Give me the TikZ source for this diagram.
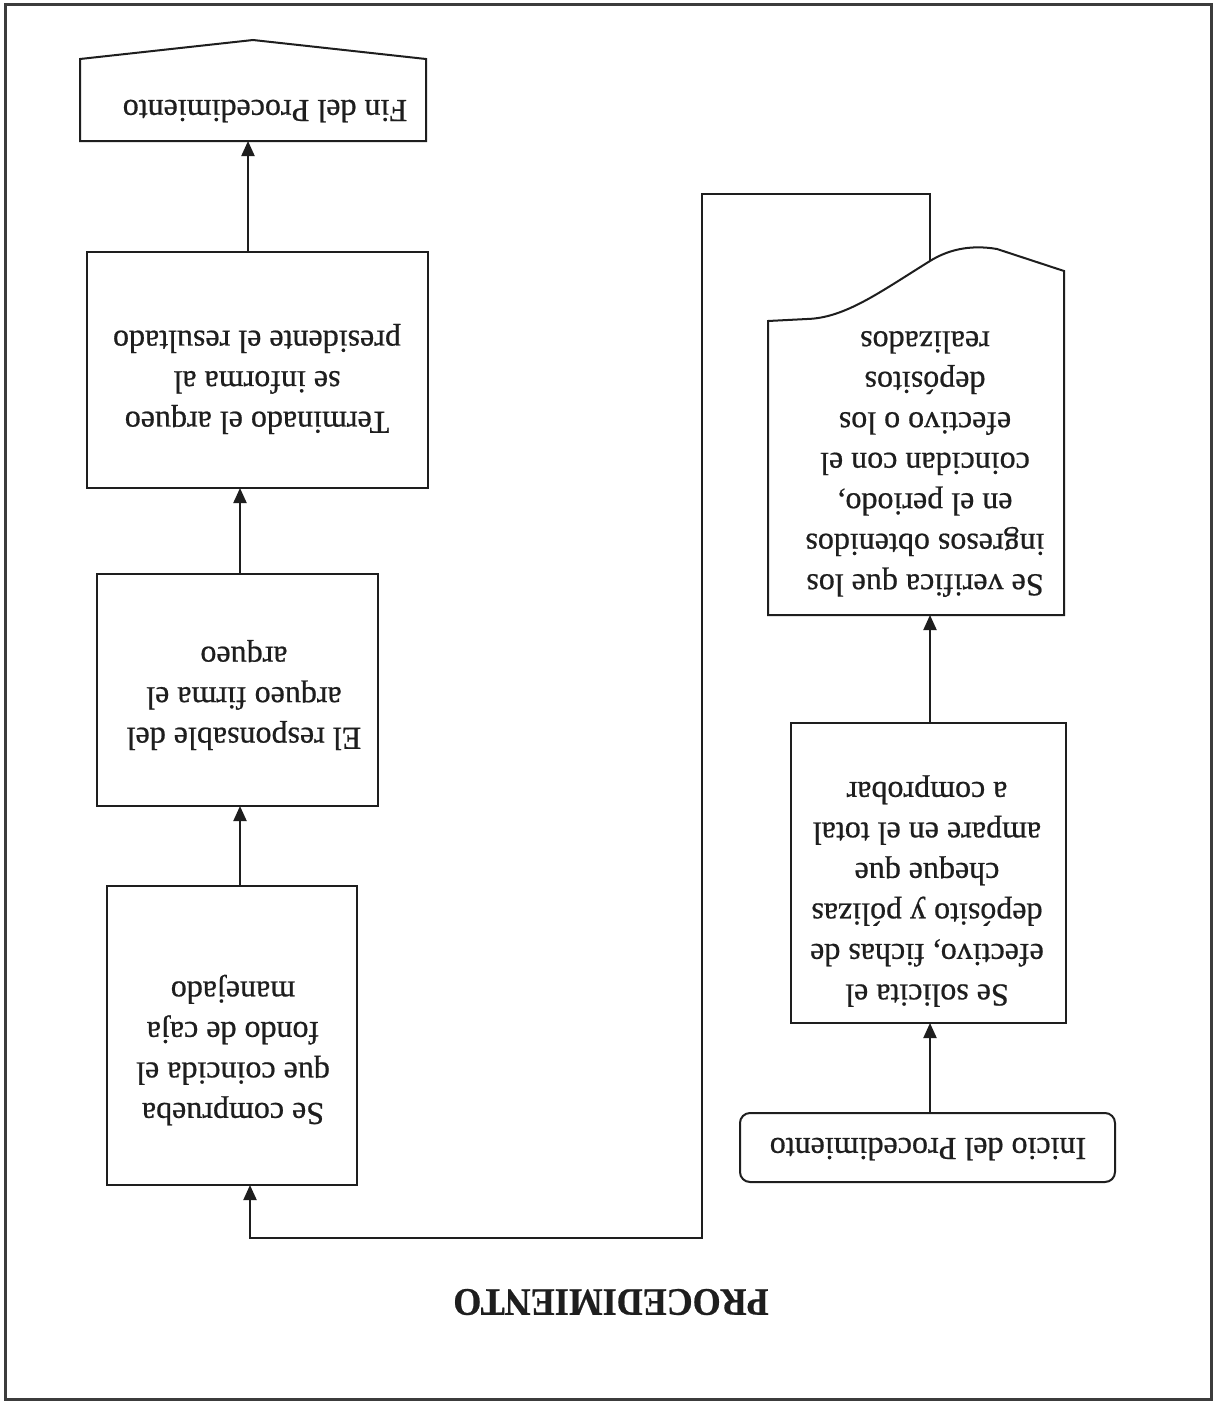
\documentclass[tikz,border=0pt]{standalone}
\usepackage{fontspec}
\setmainfont{Liberation Serif}[FakeBold=0.6]
\usepackage{graphicx}
\usetikzlibrary{arrows.meta,calc}

\definecolor{ink}{HTML}{1E1E1E}
\definecolor{framegray}{HTML}{3C3C3C}

\tikzset{
  boxshape/.style={draw=ink, line width=2pt, rectangle, inner sep=0pt, outer sep=0pt},
  anchorbox/.style={rectangle, inner sep=0pt, outer sep=0pt},
  txt/.style={text=ink, align=center, inner sep=0pt, rotate=180,
              font=\fontsize{32}{40.5}\selectfont},
  arr/.style={draw=ink, line width=2pt, -{Triangle[length=15pt,width=13pt]}},
  outline/.style={draw=ink, line width=2pt, line join=miter},
  frameline/.style={draw=framegray, line width=3pt}
}

\begin{document}
\begin{tikzpicture}[x=1pt,y=-1pt]
\useasboundingbox (0,0) rectangle (1218,1403);
\fill[white] (0,0) rectangle (1218,1403);

% outer frame
\draw[frameline] (5,4) rectangle (1211,1399);

% title
\node[txt, font=\bfseries\fontsize{36}{40}\selectfont] (title) at (611,1302)
  {\scalebox{1}[1.08]{PROCEDIMIENTO}};

% start terminal
\node[boxshape, rounded corners=10pt, minimum width=375pt, minimum height=69pt] (ini) at (927.5,1147.5) {};
\node[txt] (initxt) at (928,1149) {Inicio del Procedimiento};

% request step
\node[boxshape, minimum width=275pt, minimum height=300pt] (sol) at (928.5,873) {};
\node[txt] (soltxt) at (927,891) {Se solicita el\\efectivo, fichas de\\depósito y pólizas\\cheque que\\ampare en el total\\a comprobar};

% document step (wavy edge)
\node[anchorbox, minimum width=296pt, minimum height=366pt] (doc) at (916,432) {};
\draw[outline] (768,615) -- (1064,615) -- (1064,271) -- (997,249)
  .. controls (968,244) and (946,251) .. (930,261)
  .. controls (880,292) and (845,318) .. (807,319) -- (768,321) -- cycle;
\node[txt] (doctxt) at (925,464) {Se verifica que los\\ingresos obtenidos\\en el periodo,\\coincidan con el\\efectivo o los\\depósitos\\realizados};

% check step
\node[boxshape, minimum width=250pt, minimum height=299pt] (comp) at (232,1035.5) {};
\node[txt] (comptxt) at (233,1050) {Se comprueba\\que coincida el\\fondo de caja\\manejado};

% signature step
\node[boxshape, minimum width=281pt, minimum height=232pt] (resp) at (237.5,690) {};
\node[txt] (resptxt) at (244,695) {El responsable del\\arqueo firma el\\arqueo};

% report step
\node[boxshape, minimum width=341pt, minimum height=236pt] (term) at (257.5,370) {};
\node[txt] (termtxt) at (257,379) {Terminado el arqueo\\se informa al\\presidente el resultado};

% end terminal (pointed edge)
\node[anchorbox, minimum width=346pt, minimum height=82pt] (fin) at (253,100) {};
\draw[outline] (fin.south west) -- (fin.north west) -- (253,40) -- (fin.north east) -- (fin.south east) -- cycle;
\node[txt] (fintxt) at (265,111) {Fin del Procedimiento};

% route points of the long connector
\coordinate (d0) at (930,261);
\coordinate (d1) at (930,194);
\coordinate (d2) at (702,194);
\coordinate (d3) at (702,1238);
\coordinate (d4) at (250,1238);

% connectors
\draw[arr] ([xshift=2.5pt]ini.north) -- ([xshift=2.5pt]ini.north |- sol.south);
\draw[arr] ([xshift=1.5pt]sol.north) -- ([xshift=1.5pt]sol.north |- doc.south);
\draw[arr] (d0) -- (d1) -- (d2) -- (d3) -- (d4) -- (d4 |- comp.south);
\draw[arr] ([xshift=8pt]comp.north) -- ([xshift=8pt]comp.north |- resp.south);
\draw[arr] ([xshift=2.5pt]resp.north) -- ([xshift=2.5pt]resp.north |- term.south);
\draw[arr] ([xshift=-9.5pt]term.north) -- ([xshift=-9.5pt]term.north |- fin.south);
\end{tikzpicture}
\end{document}
